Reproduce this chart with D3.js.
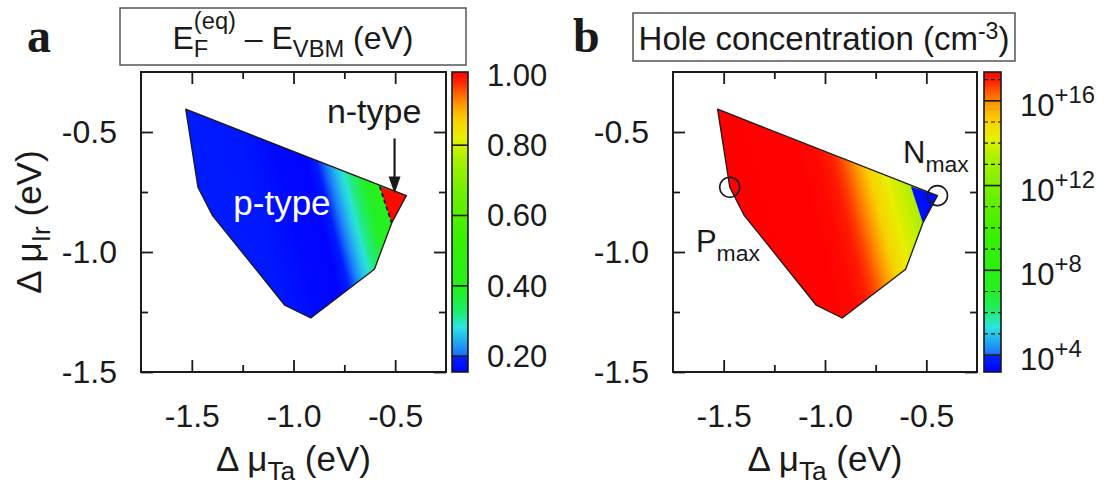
<!DOCTYPE html>
<html>
<head>
<meta charset="utf-8">
<script src="https://cdn.jsdelivr.net/npm/d3@7"></script>
<style>
  body { margin: 0; background: #fff; }
  svg { display: block; }
  text { font-family: "Liberation Sans", Arial, Helvetica, sans-serif; fill: #1a1a1a; white-space: pre; }
</style>
</head>
<body>
<svg id="chart" width="1104" height="489"></svg>
<script>
// axes shared by both panels (eV)
const taDomain = [-1.75, -0.25];
const irDomain = [-1.5, -0.25];
const majorTicks = [-1.5, -1.0, -0.5];
const minorTicks = [-1.25, -0.75];

// stability region, clockwise from the top-left corner
const boundaryTa = [-1.53, -1.47, -1.40, -1.043, -0.915, -0.602, -0.517, -0.445];
const boundaryIr = [-0.405, -0.73, -0.846, -1.222, -1.275, -1.072, -0.879, -0.765];
// right-hand corner where the material flips
const cornerTa = [-0.576, -0.445, -0.517];
const cornerIr = [-0.727, -0.765, -0.879];

// values read along the cut dmu_Ir = -0.75; iso-lines follow dTa/dIr = isoSlope
const profileIr = -0.75;
const isoSlope = -0.3;

const fermiTa = [-1.46, -1.20, -1.03, -0.90, -0.85, -0.80, -0.76, -0.73, -0.70, -0.64, -0.567];
const fermiVal = [0.19, 0.185, 0.165, 0.16, 0.19, 0.215, 0.26, 0.29, 0.32, 0.38, 0.42];
const fermiCorner = 1.0;

const holeTa = [-1.46, -1.10, -1.00, -0.93, -0.88, -0.82, -0.76, -0.68, -0.60, -0.567];
const holeLog = [17.4, 17.35, 17.25, 17.0, 16.6, 15.9, 15.1, 14.3, 13.6, 13.3];
const holeCorner = 3.5;

// colour bars
const fermiLim = [0.155, 1.008];
const fermiTicks = [0.2, 0.4, 0.6, 0.8, 1.0];
const fermiLines = [0.2, 0.4, 0.6, 0.8];
const holeLim = [3.2, 17.36];
const holeTicks = [4, 8, 12, 16];
const holeDashed = [5, 6, 7, 9, 10, 11, 13, 14, 15, 17];

// palette: fraction of the bar -> colour
const cmapFrac = [0, 0.052, 0.056, 0.10, 0.15, 0.20, 0.27, 0.45, 0.60, 0.72, 0.78, 0.84, 0.88, 0.93, 0.97, 1];
const cmapColor = ["#0000ff", "#0022ff", "#1870ff", "#20a8f0", "#2ce4e4", "#20ec70", "#22f020", "#38f000",
  "#70f000", "#b0f000", "#e8f000", "#f8d000", "#ffa800", "#ff6000", "#ff2000", "#ff0000"];

// marked points in b
const markName = ["P", "N"];
const markTa = [-1.47, -0.445];
const markIr = [-0.73, -0.765];

const svg = d3.select("#chart");
const defs = svg.append("defs");
const ink = "#1a1a1a";

// text with sub/superscripts; parts = {t, shift, scale, back}
function rich(parent, parts, size) {
  const text = parent.append("text").attr("font-size", size);
  let cur = 0, lastW = 0;
  parts.forEach((p) => {
    const shift = p.shift || 0;
    const ts = text.append("tspan").text(p.t)
      .attr("font-size", size * (p.scale || 1))
      .attr("dy", shift - cur);
    if (p.back) ts.attr("dx", -lastW);
    cur = shift;
    lastW = ts.node().getComputedTextLength();
  });
  return text;
}

function drawPanel(o) {
  const g = svg.append("g");
  const x = d3.scaleLinear().domain(taDomain).range([o.left, o.right]);
  const y = d3.scaleLinear().domain(irDomain).range([o.bottom, o.top]);
  const frac = d3.scaleLinear().domain(o.lim).range([0, 1]).clamp(true);
  const cmap = d3.scaleLinear().domain(cmapFrac).range(cmapColor);
  const color = (v) => cmap(frac(v));

  // fill gradient across the region, perpendicular to the iso-lines
  const xa = x(o.profTa[0]), xb = x(o.profTa[o.profTa.length - 1]), yc = y(profileIr);
  const vx = x(-1 - isoSlope) - x(-1), vy = y(-2) - y(-1);
  const len = Math.hypot(vx, vy), nx = vy / len, ny = -vx / len;
  const L = (xb - xa) * nx;
  const grad = defs.append("linearGradient").attr("id", o.id + "-fill")
    .attr("gradientUnits", "userSpaceOnUse")
    .attr("x1", xa).attr("y1", yc)
    .attr("x2", xa + nx * L).attr("y2", yc + ny * L);
  grad.selectAll("stop").data(o.profTa).join("stop")
    .attr("offset", (d) => (x(d) - xa) / (xb - xa))
    .attr("stop-color", (d, i) => color(o.profVal[i]));

  const line = d3.line();
  const pts = boundaryTa.map((t, i) => [x(t), y(boundaryIr[i])]);
  const cpts = cornerTa.map((t, i) => [x(t), y(cornerIr[i])]);
  g.append("path").attr("d", line(pts) + "Z").attr("fill", `url(#${o.id}-fill)`);
  g.append("path").attr("d", line(cpts) + "Z").attr("fill", color(o.corner));
  g.append("path").attr("d", line(pts) + "Z")
    .attr("fill", "none").attr("stroke", ink).attr("stroke-width", 1.3)
    .attr("stroke-linejoin", "round");
  if (o.dashed) {
    g.append("path").attr("d", line([cpts[0], cpts[2]]))
      .attr("stroke", ink).attr("stroke-width", 1.8).attr("stroke-dasharray", "4,3");
  }

  // frame and inward ticks on all four sides
  g.append("rect").attr("x", o.left).attr("y", o.top)
    .attr("width", o.right - o.left).attr("height", o.bottom - o.top)
    .attr("fill", "none").attr("stroke", ink).attr("stroke-width", 2);
  const ticks = (axis, tr, vals, size, labels, pad) => {
    const a = g.append("g").attr("transform", tr)
      .call(axis.tickValues(vals).tickSize(-size).tickPadding(pad || 0)
        .tickFormat(labels ? (d) => d.toFixed(1) : ""));
    a.attr("font-size", 32);
    a.select(".domain").remove();
    a.selectAll("line").attr("stroke", ink).attr("stroke-width", 1.8);
    a.selectAll("text").attr("fill", ink);
  };
  ticks(d3.axisBottom(x), `translate(0,${o.bottom})`, majorTicks, 12, true, 32);
  ticks(d3.axisBottom(x), `translate(0,${o.bottom})`, minorTicks, 7, false);
  ticks(d3.axisTop(x), `translate(0,${o.top})`, majorTicks, 12, false);
  ticks(d3.axisTop(x), `translate(0,${o.top})`, minorTicks, 7, false);
  ticks(d3.axisLeft(y), `translate(${o.left},0)`, majorTicks, 12, true, 24);
  ticks(d3.axisLeft(y), `translate(${o.left},0)`, minorTicks, 7, false);
  ticks(d3.axisRight(y), `translate(${o.right},0)`, majorTicks, 12, false);
  ticks(d3.axisRight(y), `translate(${o.right},0)`, minorTicks, 7, false);

  // colour bar
  const cy = d3.scaleLinear().domain(o.lim).range([o.bottom, o.top]);
  const bar = defs.append("linearGradient").attr("id", o.id + "-bar")
    .attr("x1", 0).attr("y1", 1).attr("x2", 0).attr("y2", 0);
  bar.selectAll("stop").data(cmapFrac).join("stop")
    .attr("offset", (d) => d).attr("stop-color", (d, i) => cmapColor[i]);
  g.append("rect").attr("x", o.cb0).attr("y", o.top)
    .attr("width", o.cb1 - o.cb0).attr("height", o.bottom - o.top)
    .attr("fill", `url(#${o.id}-bar)`);
  g.selectAll(".cb-line").data(o.barLines).join("line").attr("class", "cb-line")
    .attr("x1", o.cb0).attr("x2", o.cb1).attr("y1", cy).attr("y2", cy)
    .attr("stroke", ink).attr("stroke-width", 1.6);
  g.selectAll(".cb-dash").data(o.barDashed || []).join("line").attr("class", "cb-dash")
    .attr("x1", o.cb0).attr("x2", o.cb1).attr("y1", cy).attr("y2", cy)
    .attr("stroke", ink).attr("stroke-width", 1.2).attr("stroke-dasharray", "4,3");
  g.append("rect").attr("x", o.cb0).attr("y", o.top)
    .attr("width", o.cb1 - o.cb0).attr("height", o.bottom - o.top)
    .attr("fill", "none").attr("stroke", ink).attr("stroke-width", 1.6);
  o.barTicks.forEach((v) => {
    o.barLabel(g, v).attr("x", o.cb1 + 19).attr("y", cy(v) + o.labelDrop);
  });

  // title box
  g.append("rect").attr("x", o.box[0]).attr("y", o.box[1])
    .attr("width", o.box[2] - o.box[0]).attr("height", o.box[3] - o.box[1])
    .attr("fill", "#fff").attr("stroke", "#555").attr("stroke-width", 1.5);
  rich(g, o.title, o.titleSize)
    .attr("x", (o.box[0] + o.box[2]) / 2).attr("y", o.titleBase)
    .attr("text-anchor", "middle");

  g.append("text").text(o.letter).attr("x", o.letterX).attr("y", 52)
    .attr("font-size", 48).attr("font-weight", "bold")
    .style("font-family", '"Liberation Serif", "Times New Roman", serif');

  rich(g, [{ t: "\u0394 \u03bc" }, { t: "Ta", shift: 9, scale: 0.75 }, { t: " (eV)" }], 35)
    .attr("x", (o.left + o.right) / 2).attr("y", 471).attr("text-anchor", "middle");

  o.extra(g, x, y);
}

drawPanel({
  id: "fermi", letter: "a", letterX: 27,
  left: 141, right: 446, top: 72, bottom: 372, cb0: 452, cb1: 468,
  lim: fermiLim, profTa: fermiTa, profVal: fermiVal, corner: fermiCorner, dashed: true,
  barTicks: fermiTicks, barLines: fermiLines, labelDrop: 11,
  barLabel: (g, v) => g.append("text").attr("font-size", 31).text(v.toFixed(2)),
  box: [120, 8, 466, 65], titleSize: 32, titleBase: 49,
  title: [{ t: "E" }, { t: "F", shift: 8, scale: 0.74 }, { t: "(eq)", shift: -20, scale: 0.74, back: true },
    { t: " \u2013 E" }, { t: "VBM", shift: 8, scale: 0.74 }, { t: " (eV)" }],
  extra: (g, x, y) => {
    const yt = g.append("g").attr("transform", `translate(41,${(72 + 372) / 2}) rotate(-90)`);
    rich(yt, [{ t: "\u0394 \u03bc" }, { t: "Ir", shift: 9, scale: 0.75 }, { t: " (eV)" }], 35)
      .attr("text-anchor", "middle");

    g.append("text").text("n-type").attr("font-size", 34).attr("text-anchor", "end")
      .attr("x", x(-0.371)).attr("y", y(-0.464));
    const ax = x(-0.503), ay0 = y(-0.527), ay1 = y(-0.756);
    g.append("path").attr("d", `M${ax},${ay0}V${ay1 - 14}`)
      .attr("stroke", ink).attr("stroke-width", 2.2);
    g.append("path").attr("d", `M${ax - 6},${ay1 - 17}L${ax},${ay1}L${ax + 6},${ay1 - 17}Z`)
      .attr("fill", ink);
    g.append("text").text("p-type").attr("font-size", 35).style("fill", "#fff")
      .attr("x", x(-1.296)).attr("y", y(-0.847));
  }
});

drawPanel({
  id: "hole", letter: "b", letterX: 573,
  left: 673, right: 977, top: 72, bottom: 372, cb0: 984, cb1: 1001,
  lim: holeLim, profTa: holeTa, profVal: holeLog, corner: holeCorner, dashed: false,
  barTicks: holeTicks, barLines: holeTicks, barDashed: holeDashed, labelDrop: 15,
  barLabel: (g, v) => rich(g, [{ t: "10" }, { t: "+" + v, shift: -13, scale: 0.77 }], 31),
  box: [633, 13, 1015, 61], titleSize: 33, titleBase: 50,
  title: [{ t: "Hole concentration (cm" }, { t: "-3", shift: -11, scale: 0.7 }, { t: ")" }],
  extra: (g, x, y) => {
    g.selectAll(".mark").data(markTa).join("circle").attr("class", "mark")
      .attr("cx", (d) => x(d)).attr("cy", (d, i) => y(markIr[i])).attr("r", 10)
      .attr("fill", "none").attr("stroke", ink).attr("stroke-width", 1.6);
    rich(g, [{ t: markName[0] }, { t: "max", shift: 9, scale: 0.74 }], 31)
      .attr("x", x(-1.637)).attr("y", y(-1.0));
    rich(g, [{ t: markName[1] }, { t: "max", shift: 9, scale: 0.74 }], 31)
      .attr("x", x(-0.615)).attr("y", y(-0.63));
  }
});
</script>
</body>
</html>
